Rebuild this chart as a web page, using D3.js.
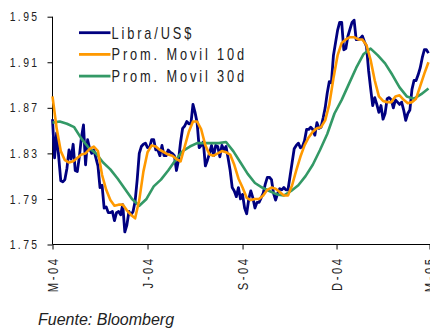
<!DOCTYPE html>
<html>
<head>
<meta charset="utf-8">
<script src="https://cdn.jsdelivr.net/npm/d3@7"></script>
<style>
  html, body { margin: 0; padding: 0; background: #fff; }
  svg { display: block; }
  text { font-family: "Liberation Sans", Arial, sans-serif; fill: #222; }
</style>
</head>
<body>
<svg id="chart" width="430" height="330"></svg>
<script>
// GBP/USD spot, Mar-2004 to Mar-2005, one reading every 2 days
const spotStart = "2004-03-01";
const spotStepDays = 2;
const spot = [
  1.860, 1.826, 1.848, 1.827, 1.806, 1.805, 1.807, 1.817, 1.833, 1.825,
  1.838, 1.815, 1.814, 1.827, 1.844, 1.855, 1.820, 1.842, 1.834, 1.830,
  1.833, 1.826, 1.819, 1.800, 1.802, 1.782, 1.783, 1.778, 1.778, 1.779,
  1.771, 1.778, 1.779, 1.776, 1.785, 1.761, 1.767, 1.779, 1.776, 1.779,
  1.788, 1.807, 1.830, 1.836, 1.838, 1.839, 1.835, 1.835, 1.842, 1.842,
  1.833, 1.833, 1.828, 1.837, 1.828, 1.828, 1.833, 1.831, 1.830, 1.828,
  1.815, 1.824, 1.840, 1.852, 1.854, 1.858, 1.856, 1.856, 1.873, 1.866,
  1.857, 1.835, 1.837, 1.840, 1.819, 1.824, 1.830, 1.837, 1.828, 1.837,
  1.836, 1.827, 1.837, 1.833, 1.836, 1.826, 1.815, 1.800, 1.797, 1.792,
  1.800, 1.790, 1.794, 1.782, 1.777, 1.790, 1.797, 1.791, 1.782, 1.787,
  1.787, 1.791, 1.795, 1.803, 1.809, 1.809, 1.807, 1.795, 1.789, 1.795,
  1.799, 1.798, 1.800, 1.798, 1.798, 1.810, 1.822, 1.834, 1.837, 1.839,
  1.835, 1.836, 1.841, 1.851, 1.851, 1.853, 1.851, 1.846, 1.857, 1.852,
  1.853, 1.861, 1.870, 1.883, 1.893, 1.892, 1.916, 1.927, 1.938, 1.945,
  1.945, 1.921, 1.922, 1.933, 1.939, 1.945, 1.947, 1.930, 1.930, 1.931,
  1.933, 1.928, 1.924, 1.903, 1.887, 1.872, 1.879, 1.873, 1.866, 1.872,
  1.860, 1.865, 1.878, 1.879, 1.877, 1.870, 1.877, 1.875, 1.873, 1.875,
  1.868, 1.859, 1.865, 1.868, 1.886, 1.894, 1.894, 1.899, 1.905, 1.914,
  1.921, 1.921, 1.918
];

// 10-day moving average, one reading every 4 days
const ma10Start = "2004-03-01";
const ma10StepDays = 4;
const ma10 = [
  1.880, 1.852, 1.832, 1.824, 1.822, 1.823, 1.826, 1.829, 1.830, 1.834,
  1.836, 1.832, 1.811, 1.798, 1.789, 1.784, 1.785, 1.785, 1.780, 1.776,
  1.773, 1.789, 1.814, 1.831, 1.837, 1.836, 1.833, 1.831, 1.829, 1.828,
  1.825, 1.823, 1.836, 1.849, 1.858, 1.858, 1.851, 1.837, 1.829, 1.828,
  1.830, 1.832, 1.831, 1.829, 1.820, 1.808, 1.800, 1.791, 1.789, 1.790,
  1.790, 1.793, 1.798, 1.800, 1.799, 1.796, 1.793, 1.793, 1.802, 1.815,
  1.827, 1.837, 1.844, 1.849, 1.852, 1.853, 1.859, 1.873, 1.896, 1.916,
  1.927, 1.930, 1.932, 1.932, 1.930, 1.930, 1.925, 1.912, 1.894, 1.880,
  1.876, 1.875, 1.875, 1.880, 1.881, 1.877, 1.874, 1.875, 1.878, 1.889,
  1.900, 1.910
];

// 30-day moving average, one reading every 7 days
const ma30Start = "2004-03-01";
const ma30StepDays = 7;
const ma30 = [
  1.857, 1.858, 1.856, 1.853, 1.843, 1.835, 1.830, 1.822, 1.816, 1.808,
  1.799, 1.790, 1.784, 1.790, 1.801, 1.807, 1.815, 1.824, 1.832, 1.836,
  1.839, 1.839, 1.839, 1.839, 1.840, 1.832, 1.822, 1.812, 1.804, 1.800,
  1.797, 1.794, 1.793, 1.797, 1.802, 1.810, 1.820, 1.833, 1.847, 1.865,
  1.877, 1.891, 1.905, 1.917, 1.922, 1.916, 1.909, 1.899, 1.888, 1.880,
  1.878, 1.882, 1.887
];

const xTickDates = ["2004-03-01", "2004-06-01", "2004-09-01", "2004-12-01", "2005-03-01"];
const xTickLabels = ["M-04", "J-04", "S-04", "D-04", "M-05"];
const yTicks = [1.75, 1.79, 1.83, 1.87, 1.91, 1.95];

const seriesNames = ["Libra/US$", "Prom. Movil 10d", "Prom. Movil 30d"];
const seriesColors = ["#000080", "#FF9900", "#339966"];

const parse = d3.utcParse("%Y-%m-%d");
const NARROW = 0.8; // horizontal squeeze applied to the label font

function toPoints(start, step, values) {
  const t0 = parse(start);
  return values.map((v, i) => ({ date: d3.utcDay.offset(t0, i * step), value: v }));
}

const svg = d3.select("#chart");

const x = d3.scaleUtc()
  .domain([parse("2004-03-01"), parse("2005-03-01")])
  .range([52.5, 429.5]);

const y = d3.scaleLinear()
  .domain([1.75, 1.95])
  .range([244.5, 16.7]);

// y axis
const yAxis = svg.append("g")
  .attr("transform", "translate(52.5,0)")
  .call(d3.axisLeft(y).tickValues(yTicks).tickFormat(d3.format(".2f")).tickSize(5));
yAxis.select(".domain").attr("stroke", "#000").attr("d", `M0,${y(1.95)}V${y(1.75)}`);
yAxis.selectAll(".tick line").attr("stroke", "#000");
yAxis.selectAll(".tick text")
  .style("font-size", "13px")
  .style("letter-spacing", "3px")
  .attr("fill", "#222")
  .attr("x", -13 / NARROW)
  .attr("transform", `scale(${NARROW},1)`);

// x axis
const xAxis = svg.append("g")
  .attr("transform", `translate(0,${y(1.75)})`)
  .call(d3.axisBottom(x)
    .tickValues(xTickDates.map(parse))
    .tickFormat((d, i) => xTickLabels[i])
    .tickSize(5));
xAxis.select(".domain").attr("stroke", "#000").attr("d", `M${x.range()[0]},0H430`);
xAxis.selectAll(".tick line").attr("stroke", "#000");
xAxis.selectAll(".tick text")
  .style("font-size", "14px")
  .style("letter-spacing", "3.2px")
  .attr("fill", "#222")
  .attr("text-anchor", "end")
  .attr("dy", "0.35em")
  .attr("x", 0)
  .attr("y", 0)
  .attr("transform", `translate(0,12) rotate(-90) scale(${NARROW},1)`);

const line = d3.line()
  .x(d => x(d.date))
  .y(d => y(d.value));

const series = [
  toPoints(spotStart, spotStepDays, spot),
  toPoints(ma10Start, ma10StepDays, ma10),
  toPoints(ma30Start, ma30StepDays, ma30)
];
const widths = [2.8, 2.6, 2.6];
const order = [0, 2, 1];

order.forEach(k => {
  svg.append("path")
    .datum(series[k])
    .attr("fill", "none")
    .attr("stroke", seriesColors[k])
    .attr("stroke-width", widths[k])
    .attr("stroke-linejoin", "round")
    .attr("d", line);
});

// legend
const legend = svg.append("g");
seriesNames.forEach((name, i) => {
  const ly = 32.7 + i * 21.7;
  legend.append("line")
    .attr("x1", 79).attr("x2", 110.5)
    .attr("y1", ly).attr("y2", ly)
    .attr("stroke", seriesColors[i])
    .attr("stroke-width", 2.8);
  legend.append("text")
    .attr("transform", `translate(111.5,${ly + 5.8}) scale(${NARROW},1)`)
    .style("font-size", "16px")
    .style("letter-spacing", "3.6px")
    .text(name);
});

// source note
svg.append("text")
  .attr("x", 38)
  .attr("y", 325)
  .style("font-size", "16px")
  .style("font-style", "italic")
  .text("Fuente: Bloomberg");
</script>
</body>
</html>
